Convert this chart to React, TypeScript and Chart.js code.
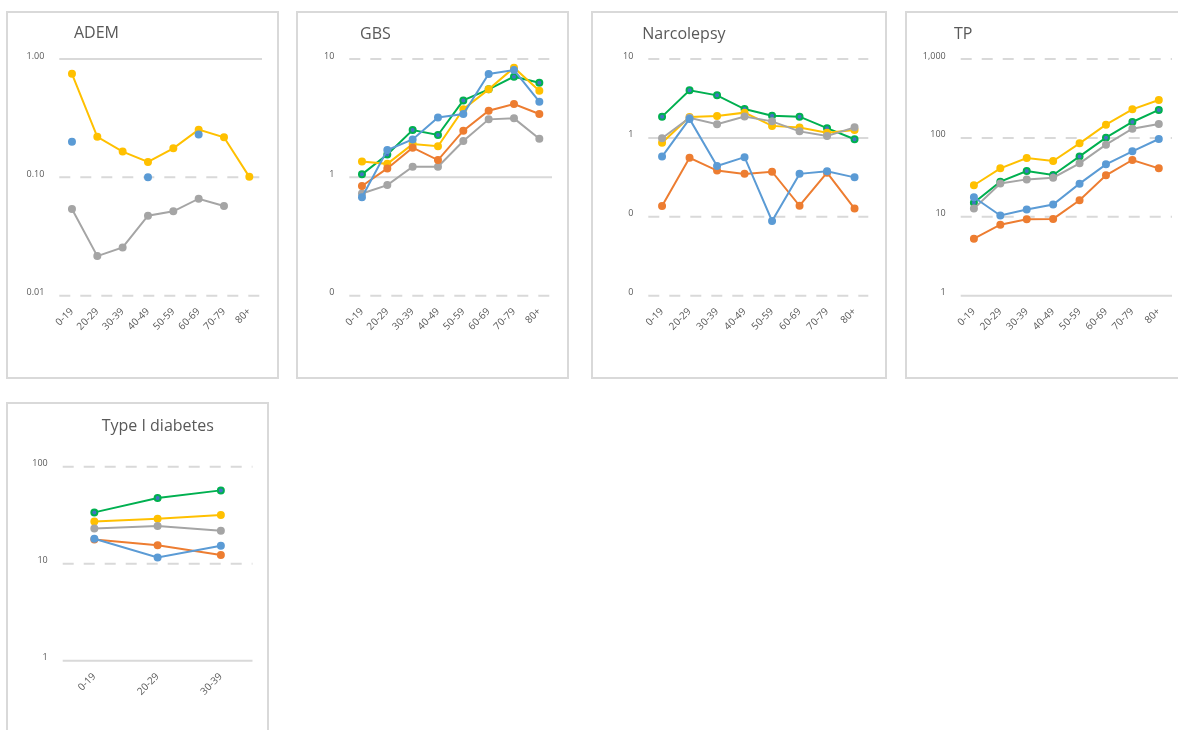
import React, { useEffect, useRef } from "react";
import { Chart, registerables } from "chart.js";

Chart.register(...registerables);

// ---------- DATA ----------
const AGE_GROUPS = ["0-19", "20-29", "30-39", "40-49", "50-59", "60-69", "70-79", "80+"];
const T1D_AGE_GROUPS = ["0-19", "20-29", "30-39"];

const ADEM_BLUE = [0.2, null, null, 0.1, null, 0.23, null, null];
const ADEM_GREY = [0.054, 0.0216, 0.0256, 0.0474, 0.0516, 0.066, 0.0573, null];
const ADEM_YELLOW = [0.75, 0.22, 0.165, 0.135, 0.176, 0.253, 0.218, 0.101];
const ADEM_TICKS = [0.01, 0.1, 1];
const ADEM_TICK_LABELS = ["0.01", "0.10", "1.00"];

const GBS_BLUE = [0.68, 1.7, 2.09, 3.21, 3.43, 7.47, 8.07, 4.36];
const GBS_ORANGE = [0.845, 1.19, 1.78, 1.4, 2.48, 3.66, 4.17, 3.43];
const GBS_GREY = [0.73, 0.86, 1.23, 1.23, 2.03, 3.09, 3.15, 2.12];
const GBS_YELLOW = [1.36, 1.3, 1.91, 1.83, 3.76, 5.54, 8.45, 5.4];
const GBS_GREEN = [1.06, 1.56, 2.51, 2.28, 4.47, 5.54, 7.09, 6.31];
const GBS_TICKS = [0.1, 1, 10];
const GBS_TICK_LABELS = ["0", "1", "10"];

const NARC_BLUE = [0.58, 1.74, 0.44, 0.57, 0.0885, 0.35, 0.377, 0.316];
const NARC_ORANGE = [0.137, 0.56, 0.385, 0.35, 0.373, 0.138, 0.362, 0.127];
const NARC_GREY = [0.99, 1.8, 1.49, 1.87, 1.62, 1.21, 1.06, 1.36];
const NARC_YELLOW = [0.87, 1.84, 1.9, 2.09, 1.42, 1.35, 1.16, 1.26];
const NARC_GREEN = [1.86, 4.01, 3.46, 2.32, 1.91, 1.86, 1.33, 0.96];
const NARC_TICKS = [0.01, 0.1, 1, 10];
const NARC_TICK_LABELS = ["0", "0", "1", "10"];

const TP_BLUE = [17.7, 10.4, 12.4, 14.3, 26.3, 46.2, 67.6, 96.8];
const TP_ORANGE = [5.28, 7.94, 9.29, 9.4, 16.2, 33.5, 52.5, 41.1];
const TP_GREY = [12.7, 26.5, 29.8, 31.3, 47.6, 82.0, 131, 150];
const TP_YELLOW = [25.1, 41.1, 55.6, 50.9, 85.3, 147, 230, 302];
const TP_GREEN = [15.1, 27.9, 38.0, 33.9, 58.3, 100.7, 159, 226];
const TP_TICKS = [1, 10, 100, 1000];
const TP_TICK_LABELS = ["1", "10", "100", "1,000"];

const T1D_BLUE = [18.1, 11.6, 15.3];
const T1D_ORANGE = [17.8, 15.5, 12.3];
const T1D_GREY = [23.1, 24.4, 21.9];
const T1D_YELLOW = [27.3, 29.1, 31.8];
const T1D_GREEN = [33.8, 47.5, 57.0];
const T1D_TICKS = [1, 10, 100];
const T1D_TICK_LABELS = ["1", "10", "100"];

// ---------- STYLE ----------
const BLUE = "#5B9BD5";
const ORANGE = "#ED7D31";
const GREY = "#A5A5A5";
const YELLOW = "#FFC000";
const GREEN = "#00B050";
const GREEN_FILL = "#4472C4";
const TEXT = "#595959";
const GRID = "#D9D9D9";
const FONT = "'Open Sans', 'Noto Sans', sans-serif";

type Box = { x: number; y: number; w: number; h: number };
type Area = { l: number; r: number; t: number; b: number };

function ds(data: (number | null)[], color: string, fill?: string) {
  return {
    data,
    borderColor: color,
    backgroundColor: fill || color,
    pointBackgroundColor: fill || color,
    pointBorderColor: color,
    borderWidth: 2,
    pointRadius: 3,
    pointBorderWidth: 2,
    tension: 0,
    spanGaps: false,
  };
}

type PanelProps = {
  box: Box;
  area: Area;
  title: string;
  titleX: number;
  titleY: number;
  labels: string[];
  series: { data: (number | null)[]; color: string; fill?: string }[];
  ticks: number[];
  tickLabels: string[];
};

function Panel(p: PanelProps) {
  const ref = useRef<HTMLCanvasElement | null>(null);
  const cx = p.box.x + 2;
  const cy = p.box.y + 2;
  const cw = p.box.w - 4;
  const ch = p.box.h - 4;

  useEffect(() => {
    if (!ref.current) return;
    const decorPlugin = {
      id: "panelDecor",
      beforeDatasetsDraw(chart: any) {
        const ctx = chart.ctx;
        const ys = chart.scales.y;
        const a = chart.chartArea;
        ctx.save();
        ctx.strokeStyle = GRID;
        ctx.lineWidth = 2;
        p.ticks.forEach((v) => {
          const y = ys.getPixelForValue(v);
          ctx.beginPath();
          ctx.setLineDash(v === 1 ? [] : [11, 10]);
          ctx.moveTo(a.left, y);
          ctx.lineTo(a.right, y);
          ctx.stroke();
        });
        ctx.restore();
      },
      afterDraw(chart: any) {
        const ctx = chart.ctx;
        ctx.save();
        ctx.font = "16px " + FONT;
        ctx.fillStyle = TEXT;
        ctx.textAlign = "left";
        ctx.textBaseline = "alphabetic";
        ctx.fillText(p.title, p.titleX - cx, p.titleY - cy);
        ctx.restore();
      },
    };

    const chart = new Chart(ref.current, {
      type: "line",
      data: {
        labels: p.labels,
        datasets: p.series.map((s) => ds(s.data, s.color, s.fill)) as any,
      },
      options: {
        responsive: false,
        animation: false,
        layout: {
          padding: {
            left: 0,
            top: p.area.t - cy,
            right: cw - (p.area.r - cx),
            bottom: 0,
          },
        },
        plugins: {
          legend: { display: false },
          tooltip: { enabled: false },
          title: { display: false },
        },
        scales: {
          x: {
            type: "category",
            offset: true,
            grid: { display: false, drawTicks: false },
            border: { display: false },
            ticks: {
              autoSkip: false,
              maxRotation: 45,
              minRotation: 45,
              padding: 10,
              color: TEXT,
              font: { family: FONT, size: 10 },
            },
            afterFit: (s: any) => {
              s.height = ch - (p.area.b - cy);
            },
          },
          y: {
            type: "logarithmic",
            min: p.ticks[0],
            max: p.ticks[p.ticks.length - 1],
            grid: { display: false, drawTicks: false },
            border: { display: false },
            afterBuildTicks: (s: any) => {
              s.ticks = p.ticks.map((v) => ({ value: v }));
            },
            ticks: {
              padding: 15,
              labelOffset: -3,
              color: TEXT,
              font: { family: FONT, size: 9 },
              callback: (_v: any, i: number) => p.tickLabels[i],
            },
            afterFit: (s: any) => {
              s.width = p.area.l - cx;
            },
          },
        },
      } as any,
      plugins: [decorPlugin],
    });
    return () => chart.destroy();
  }, []);

  return (
    <div
      style={{
        position: "absolute",
        left: p.box.x,
        top: p.box.y,
        width: p.box.w,
        height: p.box.h,
        border: "2px solid " + GRID,
        boxSizing: "border-box",
        background: "#fff",
      }}
    >
      <canvas
        ref={ref}
        width={cw}
        height={ch}
        style={{ position: "absolute", left: 0, top: 0, width: cw, height: ch }}
      />
    </div>
  );
}

export default function App() {
  return (
    <div style={{ position: "absolute", left: 0, top: 0, width: 1178, height: 730, overflow: "hidden", background: "#fff" }}>
      <Panel
        box={{ x: 6, y: 11, w: 273, h: 368 }}
        area={{ l: 59.3, r: 262, t: 59, b: 295.7 }}
        title="ADEM"
        titleX={74}
        titleY={37.5}
        labels={AGE_GROUPS}
        series={[
          { data: ADEM_BLUE, color: BLUE },
          { data: ADEM_GREY, color: GREY },
          { data: ADEM_YELLOW, color: YELLOW },
        ]}
        ticks={ADEM_TICKS}
        tickLabels={ADEM_TICK_LABELS}
      />
      <Panel
        box={{ x: 296, y: 11, w: 273, h: 368 }}
        area={{ l: 349.3, r: 552, t: 59, b: 295.7 }}
        title="GBS"
        titleX={360}
        titleY={38.8}
        labels={AGE_GROUPS}
        series={[
          { data: GBS_BLUE, color: BLUE },
          { data: GBS_ORANGE, color: ORANGE },
          { data: GBS_GREY, color: GREY },
          { data: GBS_YELLOW, color: YELLOW },
          { data: GBS_GREEN, color: GREEN, fill: GREEN_FILL },
        ]}
        ticks={GBS_TICKS}
        tickLabels={GBS_TICK_LABELS}
      />
      <Panel
        box={{ x: 591, y: 11, w: 296, h: 368 }}
        area={{ l: 648.3, r: 868.3, t: 59, b: 295.7 }}
        title="Narcolepsy"
        titleX={642.3}
        titleY={38.8}
        labels={AGE_GROUPS}
        series={[
          { data: NARC_BLUE, color: BLUE },
          { data: NARC_ORANGE, color: ORANGE },
          { data: NARC_GREY, color: GREY },
          { data: NARC_YELLOW, color: YELLOW },
          { data: NARC_GREEN, color: GREEN, fill: GREEN_FILL },
        ]}
        ticks={NARC_TICKS}
        tickLabels={NARC_TICK_LABELS}
      />
      <Panel
        box={{ x: 905, y: 11, w: 280, h: 368 }}
        area={{ l: 960.7, r: 1172, t: 59, b: 295.7 }}
        title="TP"
        titleX={954}
        titleY={38.8}
        labels={AGE_GROUPS}
        series={[
          { data: TP_BLUE, color: BLUE },
          { data: TP_ORANGE, color: ORANGE },
          { data: TP_GREY, color: GREY },
          { data: TP_YELLOW, color: YELLOW },
          { data: TP_GREEN, color: GREEN, fill: GREEN_FILL },
        ]}
        ticks={TP_TICKS}
        tickLabels={TP_TICK_LABELS}
      />
      <Panel
        box={{ x: 6, y: 402, w: 263, h: 340 }}
        area={{ l: 62.7, r: 252.5, t: 466.7, b: 660.7 }}
        title="Type I diabetes"
        titleX={101.7}
        titleY={430.7}
        labels={T1D_AGE_GROUPS}
        series={[
          { data: T1D_BLUE, color: BLUE },
          { data: T1D_ORANGE, color: ORANGE },
          { data: T1D_GREY, color: GREY },
          { data: T1D_YELLOW, color: YELLOW },
          { data: T1D_GREEN, color: GREEN, fill: GREEN_FILL },
        ]}
        ticks={T1D_TICKS}
        tickLabels={T1D_TICK_LABELS}
      />
    </div>
  );
}
